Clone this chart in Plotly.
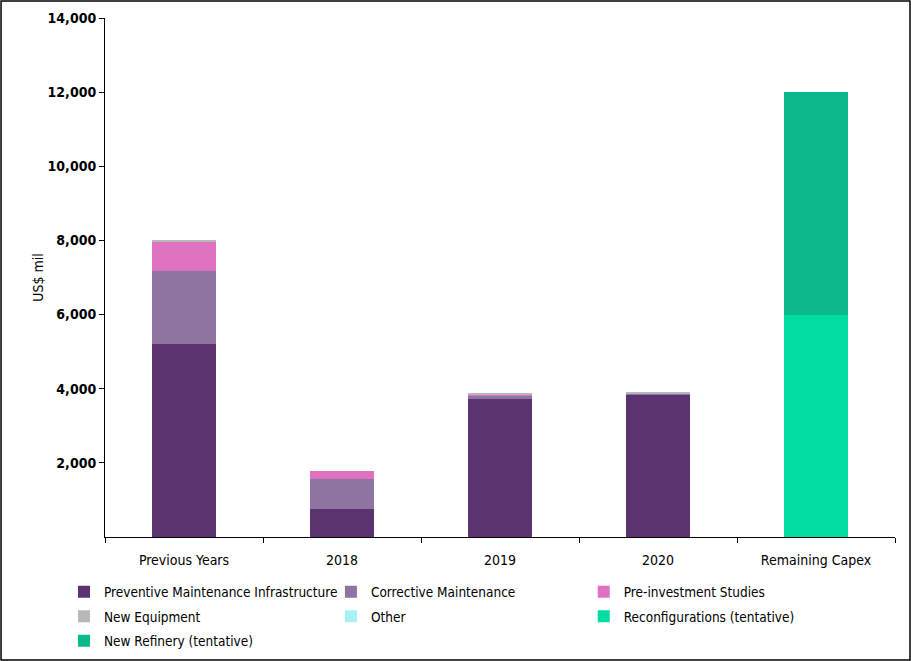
import plotly.graph_objects as go

categories = ["Previous Years", "2018", "2019", "2020", "Remaining Capex"]
preventive = [5210, 760, 3730, 3840, 0]
corrective = [1970, 800, 90, 20, 0]
preinvest = [780, 220, 30, 10, 0]
new_equipment = [60, 0, 10, 20, 0]
other = [0, 0, 0, 0, 0]
reconfig = [0, 0, 0, 0, 6000]
new_refinery = [0, 0, 0, 0, 6000]

series = [
    ("Preventive Maintenance Infrastructure", preventive, "#5B3370", "legend"),
    ("Corrective Maintenance", corrective, "#8D74A1", "legend2"),
    ("Pre-investment Studies", preinvest, "#DE72C0", "legend3"),
    ("New Equipment", new_equipment, "#B8B8B8", "legend"),
    ("Other", other, "#A6F2F2", "legend2"),
    ("Reconfigurations (tentative)", reconfig, "#00DCA2", "legend3"),
    ("New Refinery (tentative)", new_refinery, "#0CB98C", "legend"),
]

font_family = "DejaVu Sans Condensed, sans-serif"

fig = go.Figure()
for name, vals, col, leg in series:
    fig.add_trace(go.Bar(x=categories, y=vals, name=name, marker_color=col,
                         marker_line_width=0, legend=leg, legendgroup=name))

leg_common = dict(orientation="v", y=-0.0761, xanchor="left", yanchor="top",
                  traceorder="grouped", tracegroupgap=4,
                  font=dict(family=font_family, size=13.5, color="black"),
                  itemwidth=30, bgcolor="rgba(0,0,0,0)")

fig.update_layout(
    barmode="stack",
    bargap=0.6,
    width=911, height=661,
    margin=dict(l=105, r=16, t=18, b=124, autoexpand=False),
    plot_bgcolor="white", paper_bgcolor="white",
    font=dict(family=font_family, size=14, color="black"),
    legend=dict(x=-0.0519, **leg_common),
    legend2=dict(x=0.286, **leg_common),
    legend3=dict(x=0.606, **leg_common),
    showlegend=True,
)
fig.update_yaxes(range=[0, 14000], tickvals=list(range(2000, 14001, 2000)),
                 tickformat=",", showgrid=False, showline=True, linecolor="black",
                 linewidth=1, ticks="outside", ticklen=5, tickcolor="black",
                 zeroline=False,
                 tickfont=dict(family=font_family, size=14, weight="bold", color="black"),
                 title=dict(text="US$ mil", standoff=0,
                            font=dict(family=font_family, size=14, color="black")))
fig.update_xaxes(showgrid=False, showline=True, linecolor="black", linewidth=1,
                 ticks="outside", ticklen=5, tickcolor="black", tickson="boundaries",
                 ticklabelstandoff=10,
                 tickfont=dict(family=font_family, size=14, color="black"))

fig.add_shape(type="rect", xref="paper", yref="paper",
              x0=-0.1316, x1=1.019, y0=-0.237, y1=1.0328,
              line=dict(color="black", width=1.5), fillcolor="rgba(0,0,0,0)")

fig.write_html("out.html", config={"displayModeBar": False},
               post_script="document.body.style.margin='0px';")
